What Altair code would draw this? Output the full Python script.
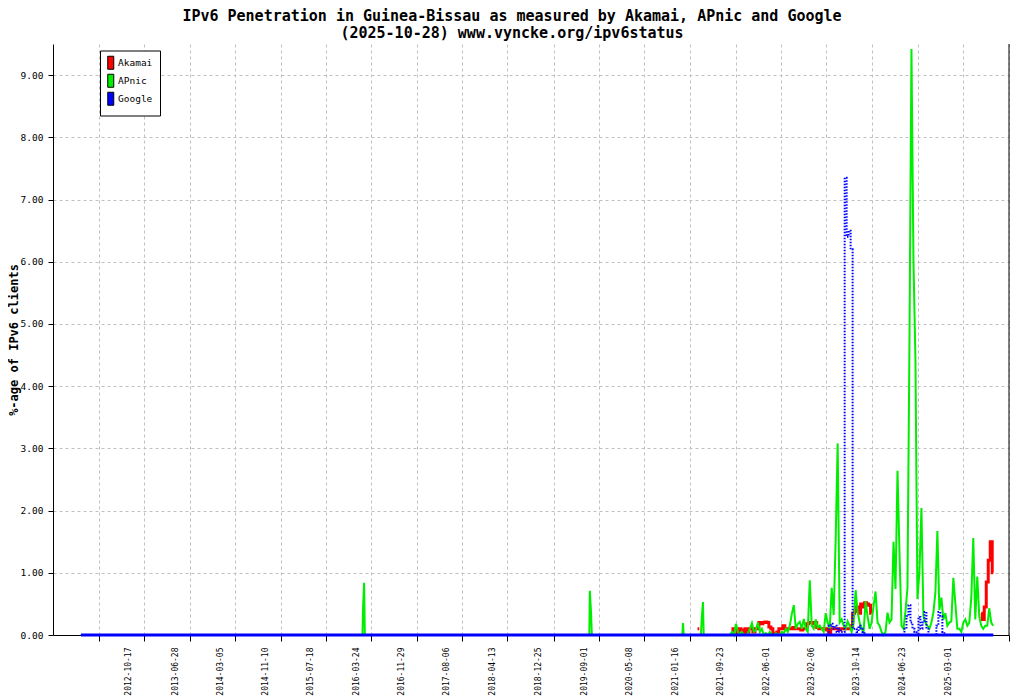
import altair as alt
import pandas as pd

MONO = "DejaVu Sans Mono"
TITLE = ["IPv6 Penetration in Guinea-Bissau as measured by Akamai, APnic and Google",
         "(2025-10-28) www.vyncke.org/ipv6status"]
SERIES = ["Akamai", "APnic", "Google"]
COLORS = ["#ff0000", "#00ee00", "#0000ff"]

tick_labels = ["2012-10-17", "2013-06-28", "2014-03-05", "2014-11-10", "2015-07-18",
               "2016-03-24", "2016-11-29", "2017-08-06", "2018-04-13", "2018-12-25",
               "2019-09-01", "2020-05-08", "2021-01-16", "2021-09-23", "2022-06-01",
               "2023-02-06", "2023-10-14", "2024-06-23", "2025-03-01"]
tick_blank = ["2012-02-12", "2025-11-09"]
x_domain = ["2011-08-25", "2026-01-31"]
y_ticks = [0, 1, 2, 3, 4, 5, 6, 7, 8, 9]

# dense period: one reading every 11 days
dense_dates = pd.date_range("2021-10-23", periods=135, freq="11D").strftime("%Y-%m-%d").tolist()

apnic_dense = [
    0, 0, 0, 0.05, 0, 0.18, 0.05, 0, 0.05, 0,
    0, 0.03, 0.1, 0.19, 0.05, 0.08, 0.2, 0.05, 0.1, 0,
    0.03, 0, 0.05, 0, 0, 0.03, 0, 0, 0.05, 0.03,
    0.1, 0.05, 0.15, 0.34, 0.48, 0.1, 0.18, 0.21, 0.1, 0.26,
    0.1, 0.05, 0.88, 0.15, 0.1, 0.25, 0.12, 0.15, 0.1, 0.05,
    0.35, 0.2, 0.1, 0.76, 0.32, 1.54, 3.08, 0.2, 0.25, 0.15,
    0.1, 0.22, 0.15, 0.05, 0.2, 0.72, 0.37, 0.2, 0.1, 0.05,
    0.54, 0.3, 0.1, 0.2, 0.47, 0.7, 0.2, 0.15, 0.05, 0,
    0.05, 0.36, 0.2, 0.25, 1.5, 0.74, 2.64, 1.32, 0.15, 0.1,
    0.38, 0.76, 4.72, 9.42, 6.02, 4.42, 0.58, 1.02, 2.04, 0.3,
    0.2, 0.15, 0.1, 0.2, 0.36, 0.68, 1.67, 0.4, 0.6, 0.25,
    0.35, 0.15, 0.2, 0.22, 0.92, 0.51, 0.1, 0.1, 0.05, 0.2,
    0.25, 0.15, 0.2, 0.6, 1.56, 0.25, 0.94, 0.3, 0.15, 0.1,
    0.15, 0.15, 0.43, 0.2, 0.15]

akamai_dense = [
    None, None, None, 0.05, 0.1, 0.1, 0.03, 0.1, 0.08, 0.03,
    0.1, 0.05, 0.1, 0.1, 0.05, 0.1, 0.1, 0.2, 0.18, 0.2,
    0.21, 0.2, 0.13, 0.1, 0.03, 0.02, 0.05, 0.1, 0.1, 0.15,
    0.1, 0.1, 0.1, 0.1, 0.12, 0.1, 0.1, 0.1, 0.08, 0.1,
    0.1, 0.18, 0.2, 0.2, 0.18, 0.2, 0.12, 0.1, 0.1, 0.1,
    0.1, 0.08, 0.02, 0.1, 0.1, 0.1, 0.1, 0.08, 0.1, 0.1,
    0.1, 0.1, 0.1, 0.15, 0.35, 0.38, 0.45, 0.35, 0.5, 0.45,
    0.52, 0.5, 0.48, 0.35, None, None, None, None, None, None,
    None, None, None, None, None, None, None, None, None, None,
    None, None, None, None, None, None, None, None, None, None,
    None, None, None, None, None, None, None, None, None, None,
    None, None, None, None, None, None, None, None, None, None,
    None, None, None, None, None, None, None, None, 0.35, 0.25,
    0.45, 0.85, 1.2, 1.5, 1.0]

google_dense = [
    0, 0, 0, 0, 0, 0, 0, 0, 0, 0,
    0, 0, 0, 0, 0, 0, 0, 0, 0, 0,
    0, 0, 0, 0, 0, 0, 0, 0, 0, 0,
    0, 0, 0, 0, 0, 0, 0, 0, 0, 0,
    0, 0, 0, 0, 0, 0, 0, 0, 0, 0,
    0, 0, 0.15, 0.18, 0.1, 0.15, 0.05, 0.1, 0.05, 0.05,
    7.35, 6.4, 6.5, 6.2, 0.1, 0.1, 0.05, 0.15, 0.1, 0.05,
    0, 0, 0, 0, 0, 0, 0, 0, 0, 0,
    0, 0, 0, 0, 0, 0, 0, 0, 0, 0,
    0.1, 0.3, 0.48, 0.2, 0.1, 0.05, 0, 0.29, 0.1, 0.2,
    0.37, 0.1, 0, 0, 0, 0, 0.15, 0.37, 0.3, 0.05,
    0, 0, 0, 0, 0, 0, 0, 0, 0, 0,
    0, 0, 0, 0, 0, 0, 0, 0, 0, 0,
    0, 0, 0, 0, 0]

# sparse early period
apnic_early_dates = ["2012-01-26", "2016-04-27", "2016-04-30", "2016-05-06", "2016-05-10",
                     "2019-09-30", "2019-10-03", "2019-10-10", "2019-10-14",
                     "2021-02-24", "2021-02-28", "2021-03-04",
                     "2021-06-07", "2021-06-11", "2021-06-18", "2021-06-22", "2021-10-12"]
apnic_early_values = [0, 0, 0.42, 0.84, 0,
                      0, 0.71, 0.35, 0,
                      0, 0.19, 0,
                      0, 0.26, 0.53, 0, 0]
google_early_dates = ["2012-01-26", "2021-10-12"]
google_early_values = [0, 0]
akamai_early_dates = ["2021-05-19", "2021-05-29"]
akamai_early_values = [0.1, 0.1]

rows = []
for d, v in zip(akamai_early_dates, akamai_early_values):
    rows.append({"series": "Akamai", "date": d, "value": v, "seg": 0})
seg = 1
prev = None
for d, v in zip(dense_dates, akamai_dense):
    if v is None:
        if prev is not None:
            seg += 1
        prev = None
        continue
    rows.append({"series": "Akamai", "date": d, "value": v, "seg": seg})
    prev = v
for d, v in list(zip(apnic_early_dates, apnic_early_values)) + list(zip(dense_dates, apnic_dense)):
    rows.append({"series": "APnic", "date": d, "value": v, "seg": 0})
for d, v in list(zip(google_early_dates, google_early_values)) + list(zip(dense_dates, google_dense)):
    rows.append({"series": "Google", "date": d, "value": v, "seg": 0})
df = pd.DataFrame(rows)


def ms(s):
    return int(pd.Timestamp(s, tz="UTC").value // 10**6)


tick_values = sorted([ms(s) for s in tick_labels + tick_blank])
blank_js = "[" + ",".join("'%s'" % s for s in tick_blank) + "]"

xscale = alt.Scale(type="utc", domain=[ms(x_domain[0]), ms(x_domain[1])], nice=False)
yscale = alt.Scale(domain=[0, 9.5], nice=False, zero=True)

xaxis = alt.Axis(values=tick_values, format="%Y-%m-%d",
                 labelExpr="indexof(%s, datum.label) >= 0 ? '' : datum.label" % blank_js,
                 labelAngle=270, labelFont=MONO, labelFontSize=8, labelColor="black",
                 labelOverlap=False, labelPadding=6, tickOffset=15, labelOffset=-15,
                 grid=True, gridDash=[3, 3], gridColor="#c0c0c0", tickColor="black",
                 tickSize=6, domainColor="black", title=None)
yaxis = alt.Axis(values=y_ticks, format=".2f", labelFont=MONO, labelFontSize=9.5,
                 labelColor="black", labelPadding=5, grid=True, gridDash=[3, 3],
                 gridColor="#c0c0c0", tickColor="black", tickSize=5, domainColor="black",
                 title="%-age of IPv6 clients", titleFont=MONO, titleFontSize=12,
                 titleFontWeight="bold", titleColor="black", titlePadding=0)

X = alt.X("date:T", scale=xscale, axis=xaxis)
Y = alt.Y("value:Q", scale=yscale, axis=yaxis)

base = alt.Chart(df)

akamai = base.transform_filter("datum.series == 'Akamai'").mark_line(
    interpolate="step", strokeWidth=3, color=COLORS[0]).encode(x=X, y=Y, detail="seg:N")
apnic = base.transform_filter("datum.series == 'APnic'").mark_line(
    strokeWidth=2, color=COLORS[1]).encode(x=X, y=Y)
google_base = base.transform_filter("datum.series == 'Google'").transform_calculate(
    base="datum.value * 0").mark_line(strokeWidth=3, color=COLORS[2]).encode(
    x=X, y=alt.Y("base:Q", scale=yscale, axis=yaxis))
google = base.transform_filter("datum.series == 'Google'").mark_line(
    interpolate="step", strokeWidth=2, strokeDash=[1.5, 1.5], color=COLORS[2]).encode(x=X, y=Y)

right_edge = alt.Chart(pd.DataFrame({"edge": [ms(x_domain[1])]})).mark_rule(
    color="black", strokeWidth=1).encode(x=alt.X("edge:T", scale=xscale, axis=xaxis))

legend_layer = base.mark_square(opacity=0, stroke="black", strokeWidth=1).encode(
    x=X, y=Y,
    fill=alt.Fill("series:N", scale=alt.Scale(domain=SERIES, range=COLORS),
                  legend=alt.Legend(title=None, orient="none", legendX=47, legendY=6.5,
                                    strokeColor="black", fillColor="white", padding=7.5,
                                    symbolType="M-2.25,-3.25H0.75V3.25H-2.25Z", symbolSize=16,
                                    symbolStrokeColor="black", symbolStrokeWidth=1,
                                    symbolOpacity=1, labelFont=MONO, labelFontSize=9.5,
                                    labelColor="black", labelOffset=1, rowPadding=0)))

chart = alt.layer(akamai, apnic, google_base, google, right_edge, legend_layer).properties(
    width=956, height=591,
    title=alt.Title(text=TITLE, font=MONO, fontSize=15, fontWeight="bold", color="black",
                    anchor="middle", dx=-19, offset=2.5, lineHeight=17.5),
    padding={"left": 45, "top": 36, "right": 7, "bottom": 64},
    autosize=alt.AutoSizeParams(type="none"),
    background="white",
).configure_view(stroke=None)

chart.save("out.html", embed_options={"renderer": "svg", "actions": False})
